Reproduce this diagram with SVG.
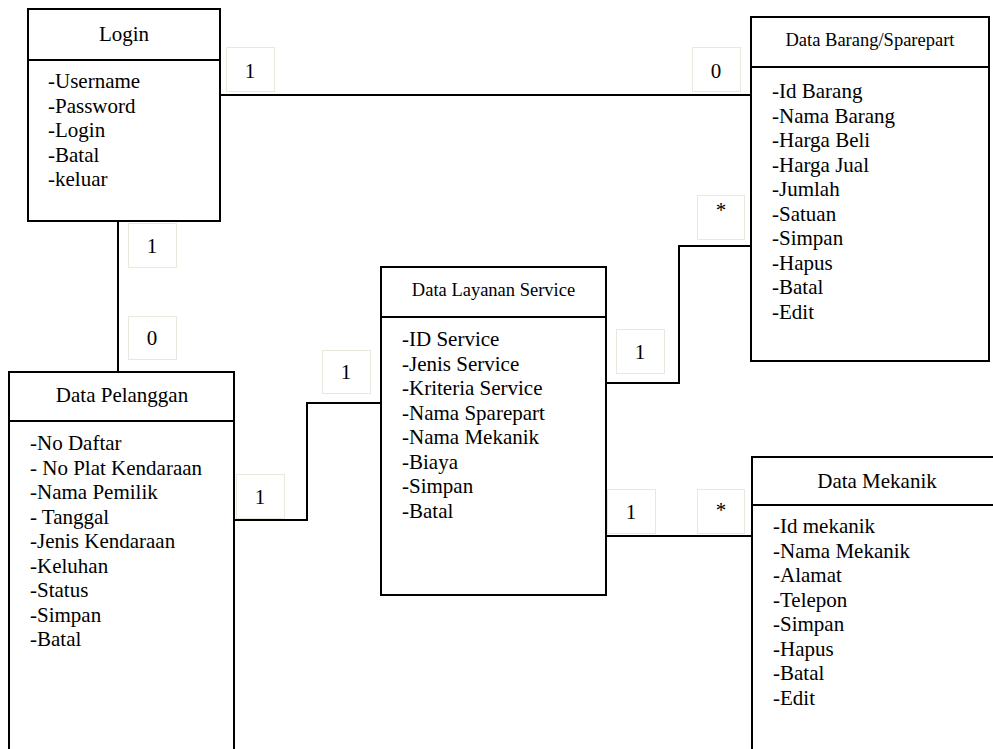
<svg xmlns="http://www.w3.org/2000/svg" width="993" height="749" viewBox="0 0 993 749">
<style>
.box{fill:#fff;stroke:#000;stroke-width:2}
.div{stroke:#000;stroke-width:2}
.conn{fill:none;stroke:#000;stroke-width:2}
.lbl{fill:#fff;stroke:#e8e8dc;stroke-width:1}
text{font-family:"Liberation Serif","Times New Roman",serif;fill:#000}
.t{font-size:21px;text-anchor:middle}
.ts{font-size:18.5px;text-anchor:middle}
.a{font-size:21px}
.n{font-size:21px;text-anchor:middle}
</style>
<rect width="993" height="749" fill="#fff"/>
<g id="connectors">
<line class="conn" x1="220" y1="95" x2="752" y2="95"/>
<line class="conn" x1="118" y1="221" x2="118" y2="372"/>
<polyline class="conn" points="234,520 307,520 307,403 382,403"/>
<polyline class="conn" points="606,383 679,383 679,246 752,246"/>
<line class="conn" x1="606" y1="536" x2="752" y2="536"/>
</g>
<g id="labels">
<rect class="lbl" x="226.5" y="47.5" width="48" height="44"/><text class="n" x="250" y="78">1</text>
<rect class="lbl" x="692.5" y="47.5" width="48" height="44"/><text class="n" x="716" y="78">0</text>
<rect class="lbl" x="128.5" y="223.5" width="48" height="44"/><text class="n" x="152" y="253">1</text>
<rect class="lbl" x="128.5" y="316.5" width="48" height="43"/><text class="n" x="152" y="345">0</text>
<rect class="lbl" x="236.5" y="474.5" width="48" height="44"/><text class="n" x="260" y="504">1</text>
<rect class="lbl" x="322.5" y="350.5" width="48" height="43"/><text class="n" x="346" y="379">1</text>
<rect class="lbl" x="616.5" y="329.5" width="48" height="44"/><text class="n" x="640" y="359">1</text>
<rect class="lbl" x="697.5" y="195.5" width="47" height="44"/><text class="n" x="721" y="217">*</text>
<rect class="lbl" x="607.5" y="489.5" width="48" height="44"/><text class="n" x="631" y="519">1</text>
<rect class="lbl" x="697.5" y="489.5" width="47" height="44"/><text class="n" x="721" y="517">*</text>
</g>
<g id="login">
<rect class="box" x="28" y="9" width="192" height="212"/>
<line class="div" x1="28" y1="60" x2="220" y2="60"/>
<text class="t" x="124" y="41">Login</text>
<text class="a" x="48" y="88">-Username</text>
<text class="a" x="48" y="112.5">-Password</text>
<text class="a" x="48" y="137">-Login</text>
<text class="a" x="48" y="161.5">-Batal</text>
<text class="a" x="48" y="186">-keluar</text>
</g>
<g id="data-barang">
<rect class="box" x="751" y="17" width="238" height="344"/>
<line class="div" x1="751" y1="67" x2="989" y2="67"/>
<text class="ts" x="870" y="46">Data Barang/Sparepart</text>
<text class="a" x="772" y="98">-Id Barang</text>
<text class="a" x="772" y="122.5">-Nama Barang</text>
<text class="a" x="772" y="147">-Harga Beli</text>
<text class="a" x="772" y="171.5">-Harga Jual</text>
<text class="a" x="772" y="196">-Jumlah</text>
<text class="a" x="772" y="220.5">-Satuan</text>
<text class="a" x="772" y="245">-Simpan</text>
<text class="a" x="772" y="269.5">-Hapus</text>
<text class="a" x="772" y="294">-Batal</text>
<text class="a" x="772" y="318.5">-Edit</text>
</g>
<g id="data-pelanggan">
<rect class="box" x="9" y="372" width="225" height="390"/>
<line class="div" x1="9" y1="421" x2="234" y2="421"/>
<text class="t" x="122" y="402">Data Pelanggan</text>
<text class="a" x="30" y="450">-No Daftar</text>
<text class="a" x="30" y="474.5">- No Plat Kendaraan</text>
<text class="a" x="30" y="499">-Nama Pemilik</text>
<text class="a" x="30" y="523.5">- Tanggal</text>
<text class="a" x="30" y="548">-Jenis Kendaraan</text>
<text class="a" x="30" y="572.5">-Keluhan</text>
<text class="a" x="30" y="597">-Status</text>
<text class="a" x="30" y="621.5">-Simpan</text>
<text class="a" x="30" y="646">-Batal</text>
</g>
<g id="data-layanan">
<rect class="box" x="381" y="267" width="225" height="328"/>
<line class="div" x1="381" y1="317" x2="606" y2="317"/>
<text class="ts" x="493.5" y="296">Data Layanan Service</text>
<text class="a" x="402" y="346">-ID Service</text>
<text class="a" x="402" y="370.5">-Jenis Service</text>
<text class="a" x="402" y="395">-Kriteria Service</text>
<text class="a" x="402" y="419.5">-Nama Sparepart</text>
<text class="a" x="402" y="444">-Nama Mekanik</text>
<text class="a" x="402" y="468.5">-Biaya</text>
<text class="a" x="402" y="493">-Simpan</text>
<text class="a" x="402" y="517.5">-Batal</text>
</g>
<g id="data-mekanik">
<rect class="box" x="752" y="457" width="252" height="310"/>
<line class="div" x1="752" y1="505" x2="1004" y2="505"/>
<text class="t" x="877" y="488">Data Mekanik</text>
<text class="a" x="773" y="533">-Id mekanik</text>
<text class="a" x="773" y="557.5">-Nama Mekanik</text>
<text class="a" x="773" y="582">-Alamat</text>
<text class="a" x="773" y="606.5">-Telepon</text>
<text class="a" x="773" y="631">-Simpan</text>
<text class="a" x="773" y="655.5">-Hapus</text>
<text class="a" x="773" y="680">-Batal</text>
<text class="a" x="773" y="704.5">-Edit</text>
</g>
</svg>
